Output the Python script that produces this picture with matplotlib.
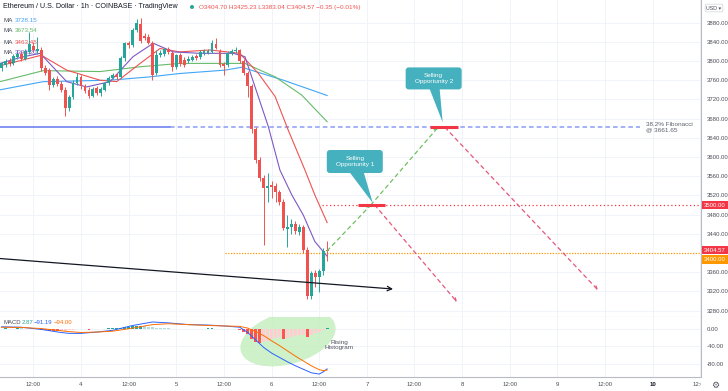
import numpy as np
import matplotlib
matplotlib.use("Agg")
import matplotlib.pyplot as plt
from matplotlib.patches import Ellipse, FancyBboxPatch, Polygon
from matplotlib.transforms import IdentityTransform, blended_transform_factory

plt.rcParams["font.family"] = ["Liberation Sans", "DejaVu Sans"]

# hourly candles, hour 0 = day 4 00:00
hours = list(range(-20, 63))
opens = [3785, 3792, 3800, 3795, 3808, 3815, 3805, 3818, 3832, 3820,
         3822, 3786, 3781, 3750, 3762, 3752, 3740, 3702, 3725, 3754,
         3766, 3748, 3740, 3728, 3743, 3733, 3740, 3754, 3765, 3770,
         3767, 3806, 3837, 3833, 3865, 3878, 3852, 3850, 3838, 3775,
         3812, 3814, 3825, 3817, 3788, 3812, 3802, 3800, 3803, 3810,
         3808, 3816, 3817, 3819, 3836, 3820, 3793, 3792, 3816, 3820,
         3823, 3800, 3775, 3748, 3658, 3594, 3556, 3535, 3541, 3540,
         3527, 3506, 3450, 3454, 3460, 3444, 3454, 3406, 3310, 3358,
         3350, 3362, 3404.70]
highs = [3798, 3805, 3806, 3815, 3822, 3820, 3825, 3860, 3840, 3850,
         3830, 3792, 3785, 3766, 3768, 3758, 3745, 3730, 3760, 3775,
         3770, 3752, 3746, 3746, 3748, 3745, 3757, 3768, 3774, 3775,
         3810, 3840, 3842, 3868, 3888, 3890, 3858, 3856, 3842, 3823,
         3822, 3828, 3830, 3820, 3815, 3816, 3808, 3810, 3812, 3814,
         3822, 3824, 3826, 3844, 3848, 3824, 3798, 3820, 3824, 3830,
         3826, 3804, 3780, 3752, 3662, 3600, 3562, 3567, 3550, 3545,
         3532, 3512, 3479, 3470, 3466, 3460, 3458, 3412, 3362, 3365,
         3366, 3410, 3425.23]
lows = [3780, 3788, 3790, 3792, 3805, 3800, 3802, 3815, 3818, 3815,
        3780, 3770, 3740, 3745, 3748, 3736, 3685, 3695, 3720, 3750,
        3742, 3733, 3722, 3725, 3730, 3728, 3737, 3750, 3762, 3763,
        3764, 3800, 3828, 3830, 3860, 3838, 3844, 3835, 3760, 3770,
        3808, 3810, 3815, 3780, 3784, 3790, 3788, 3796, 3800, 3802,
        3805, 3812, 3814, 3816, 3824, 3788, 3770, 3788, 3812, 3816,
        3796, 3770, 3725, 3650, 3588, 3550, 3417, 3506, 3515, 3506,
        3500, 3448, 3412, 3440, 3440, 3438, 3400, 3305, 3305, 3330,
        3319, 3355, 3383.04]
closes = [3795, 3800, 3795, 3810, 3815, 3805, 3820, 3835, 3822, 3825,
          3786, 3775, 3750, 3762, 3752, 3740, 3702, 3725, 3754, 3766,
          3748, 3737, 3728, 3742, 3733, 3742, 3754, 3765, 3770, 3767,
          3806, 3837, 3833, 3865, 3880, 3842, 3848, 3838, 3770, 3812,
          3816, 3825, 3818, 3787, 3812, 3793, 3792, 3805, 3808, 3806,
          3819, 3820, 3821, 3837, 3827, 3792, 3790, 3816, 3820, 3823,
          3800, 3775, 3748, 3658, 3594, 3556, 3536, 3540, 3537, 3527,
          3506, 3452, 3455, 3461, 3445, 3454, 3406, 3310, 3358, 3350,
          3362, 3404, 3404.57]

# moving averages (hour, price)
ma_blue_t = [-20.4, -9.5, 7.3, 17.4, 24.9, 36.3, 40.5, 51, 62]
ma_blue_v = [3740, 3757, 3760, 3767, 3774, 3781, 3787, 3760, 3728.15]
ma_green_t = [-20.4, -9.5, 4.8, 14.9, 24.9, 40, 41.3, 48.9, 55.6, 62]
ma_green_v = [3757, 3780, 3778, 3788, 3795, 3795, 3795, 3767, 3729, 3673.54]
ma_red_t = [-20.4, -10, -3.6, 4.8, 9, 14.9, 19.9, 24.9, 32.5, 40, 44.7, 48.9, 52.2, 56.4, 58.9, 62]
ma_red_v = [3790, 3812, 3781, 3760, 3757, 3795, 3826, 3819, 3823, 3816, 3774, 3726, 3656, 3573, 3521, 3463.45]
ma_purple_t = [-20.4, -15, -10.3, -3.6, 1.4, 7.3, 13.1, 18.2, 23.2, 30, 38.4, 41.3, 47.2, 50.1, 53.1, 56, 58.9, 62]
ma_purple_v = [3795, 3808, 3816, 3757, 3746, 3757, 3809, 3837, 3819, 3816, 3816, 3809, 3663, 3573, 3521, 3479, 3424, 3393.20]

# MACD pane
macd_hist = [1.0, 1.2, 0.8, 1.0, 1.5, 1.2, 0.6, 0.0, -0.5, -1.0,
             -2.0, -3.0, -4.0, -4.5, -5.0, -4.8, -4.0, -3.0, -2.0, -1.0,
             -0.6, -1.0, -1.2, -0.6, 0.0, 0.4, 1.0, 1.5, 2.0, 2.2,
             3.0, 4.0, 5.0, 6.0, 7.0, 7.2, 6.5, 5.5, 4.0, 3.0,
             2.5, 2.0, 1.5, 0.5, 0.0, -0.5, -0.6, 0.0, 0.2, 0.5,
             1.0, 1.1, 1.2, 1.5, 1.0, 0.0, -0.5, 0.0, 0.4, 0.5,
             -2, -6, -12, -22, -30, -32, -30, -27, -24, -21,
             -19, -24, -21, -18, -16, -14, -14, -18, -14, -10,
             -7, -3, 2.87]
macd_t = [-20, -15, -10, -5, -3, 0, 4, 8, 13, 18, 22, 27, 32, 36, 40, 42, 44, 46, 48, 50, 52, 54, 56, 58, 60, 61, 62]
macd_v = [5, 4, -1, -8, -10, -10, -7, -3, 8, 16, 14, 10, 9, 7, 4, -8, -25, -42, -55, -65, -75, -84, -92, -100, -103, -98, -91.19]
signal_v = [4, 3.5, 1, -4, -6, -8, -7, -5, 2, 10, 12, 10, 8, 7, 6, 2, -6, -15, -27, -38, -50, -62, -73, -84, -93, -95, -94.0]

# levels and drawings
fib_level = 3661.65
target_level = 3500.0
support_level = 3400.0
last_price = 3404.57
fib_solid = (-20.4, 22.4)
fib_dashed = (22.4, 140.8)
target_from = 60.7
support_from = 36.3
sell1 = (69.8, 76.6)
sell2 = (88.0, 95.0)
up_paths = [((62, 3404.57), (73.0, 3500)), ((73.0, 3500), (89.9, 3661.65))]
down_paths = [((74.0, 3500), (94.7, 3298)), ((91.7, 3661.65), (130.2, 3323))]
trend_line = ((-20.4, 3388.5), (78.6, 3325))

price_ticks = [3280, 3320, 3360, 3440, 3480, 3520, 3560, 3600, 3640, 3680, 3720, 3760, 3800, 3840, 3880]
macd_ticks = [0, -40, -80]
tick_hours = list(range(-12, 157, 12))
tick_labels = ["12:00", "4", "12:00", "5", "12:00", "6", "12:00", "7", "12:00",
               "8", "12:00", "9", "12:00", "10", "12:00"]

W, H = 728, 391
GREEN = "#26a69a"
RED = "#ef5350"
GRID = "#f0f3fa"
AXC = "#b8bbc4"
TXT = "#4a4d57"


def fx(x):
    return x / W


def fy(y):
    return 1 - y / H


fig = plt.figure(figsize=(W / 100, H / 100), dpi=100)
ax = fig.add_axes([0, fy(317), fx(701), 317 / H])
axm = fig.add_axes([0, fy(377), fx(701), 60 / H], sharex=ax)
axt = fig.add_axes([0, 0, fx(701), 14 / H], sharex=ax)

ax.set_xlim(-20.40, 156.17)
ax.set_ylim(3266.7, 3927.1)
axm.set_ylim(-109.7, 27.4)

for a in (ax, axm):
    a.set_xticks(tick_hours)
    a.grid(color=GRID, lw=0.7)
    a.set_axisbelow(True)
    a.yaxis.tick_right()
    a.tick_params(length=0, labelbottom=False, labelsize=4.3, labelcolor=TXT, pad=4)
    for s in ("top", "left"):
        a.spines[s].set_visible(False)
    for s in ("right", "bottom"):
        a.spines[s].set_color(AXC)
        a.spines[s].set_linewidth(0.8)

ax.set_yticks(price_ticks)
ax.set_yticklabels([f"{p:.2f}" for p in price_ticks])
axm.set_yticks(macd_ticks)
axm.set_yticklabels([f"{m:.2f}" for m in macd_ticks])
axt.axis("off")
for t, lab in zip(tick_hours, tick_labels):
    bold = lab == "10"
    axt.text(t, 0.45, lab, ha="center", va="center", fontsize=4.3,
             color="#131722" if bold else TXT,
             fontweight="bold" if bold else "normal", clip_on=True)

# candles
o = np.array(opens)
c = np.array(closes)
cols = [GREEN if cc >= oo else RED for oo, cc in zip(o, c)]
ax.vlines(hours, lows, highs, colors=cols, lw=0.7, zorder=4)
ax.bar(hours, np.maximum(np.abs(c - o), 1.0), bottom=np.minimum(o, c),
       width=0.72, color=cols, lw=0, zorder=5)

# moving averages
ax.plot(ma_blue_t, ma_blue_v, color="#42a5f5", lw=0.8, zorder=3)
ax.plot(ma_green_t, ma_green_v, color="#66bb6a", lw=0.8, zorder=3)
ax.plot(ma_red_t, ma_red_v, color="#ef5350", lw=0.8, zorder=3)
ax.plot(ma_purple_t, ma_purple_v, color="#7e57c2", lw=0.8, zorder=3)

# fibonacci level
ax.plot(fib_solid, [fib_level] * 2, color="#7b8cf0", lw=1.3, zorder=2)
ax.plot(fib_dashed, [fib_level] * 2, color="#8c9cf5", lw=1.1, ls=(0, (3, 2)), zorder=2)
ax.text(142.3, fib_level, "38.2% Fibonacci\n@ 3661.65", ha="left", va="center",
        fontsize=4.6, color="#5d606b", linespacing=1.05)

# horizontal levels
ax.plot([target_from, 157], [target_level] * 2, color="#f23645", lw=0.9,
        ls=(0, (1, 2)), zorder=2)
ax.plot([support_from, 157], [support_level] * 2, color="#ff9800", lw=0.9,
        ls=(0, (1, 1.2)), zorder=2)

# trend line
ax.annotate("", xy=trend_line[1], xytext=trend_line[0],
            arrowprops=dict(arrowstyle="->", color="#131722", lw=0.9,
                            mutation_scale=8, shrinkA=0, shrinkB=0), zorder=6)

# projected paths
for start, end in up_paths:
    ax.annotate("", xy=end, xytext=start,
                arrowprops=dict(arrowstyle="->", color="#6fbf5f", lw=0.9, ls=(0, (3, 3)),
                                mutation_scale=5, shrinkA=0, shrinkB=0), zorder=6)
for start, end in down_paths:
    ax.annotate("", xy=end, xytext=start,
                arrowprops=dict(arrowstyle="->", color="#e5577a", lw=0.9, ls=(0, (3, 3)),
                                mutation_scale=5, shrinkA=0, shrinkB=0), zorder=6)

ax.plot(sell1, [target_level] * 2, color="#f23645", lw=2.2, solid_capstyle="butt", zorder=7)
ax.plot(sell2, [fib_level] * 2, color="#f23645", lw=2.2, solid_capstyle="butt", zorder=7)


def callout(tip, box, tail, text):
    # box = (dx0, dx1, dy0, dy1) in screen pixels from the tip, y downwards
    tx, ty = ax.transData.transform(tip)
    ident = IdentityTransform()
    x0, x1 = tx + box[0], tx + box[1]
    ytop, ybot = ty - box[2], ty - box[3]
    fb = FancyBboxPatch((x0, ybot), x1 - x0, ytop - ybot,
                        boxstyle="round,pad=0,rounding_size=3",
                        fc="#45b0be", ec="none", transform=ident, zorder=8)
    fig.patches.append(fb)
    tri = Polygon([(tx + tail[0], ybot + 0.5), (tx + tail[1], ybot + 0.5),
                   (tx + tail[2], ty - tail[3])],
                  closed=True, fc="#45b0be", ec="none", transform=ident, zorder=8)
    fig.patches.append(tri)
    fig.text((x0 + x1) / 2 / W, (ytop + ybot) / 2 / H, text, ha="center", va="center",
             fontsize=4.6, color="white", linespacing=1.05, zorder=9)


callout((73.5, target_level), (-46, 10, -55, -32), (-23, -9, 0, -2),
        "Selling\nOpportunity 1")
callout((91.1, fib_level), (-37, 19, -60, -38), (-13, -3, 0, -5),
        "Selling\nOpportunity 2")

# price labels on the scale
blend = blended_transform_factory(ax.transAxes, ax.transData)
for val, yoff, col in ((target_level, 0, "#f23645"), (last_price, 0.5, "#f23645"),
                       (support_level, -4.5, "#ff9800")):
    ax.annotate(f"{val:.2f}", xy=(1.0, val), xycoords=blend, xytext=(2.2, yoff),
                textcoords="offset points", ha="left", va="center", fontsize=4.3,
                color="white", annotation_clip=False,
                bbox=dict(boxstyle="square,pad=0.3", fc=col, ec="none"))

# MACD
cols_h = []
prev = 0
for h in macd_hist:
    if h >= 0:
        cols_h.append("#26a69a" if h >= prev else "#b2dfdb")
    else:
        cols_h.append("#ff5252" if h < prev else "#ffcdd2")
    prev = h
axm.bar(hours, macd_hist, width=0.72, color=cols_h, lw=0, zorder=3)
axm.plot(macd_t, macd_v, color="#2962ff", lw=0.7, zorder=4)
axm.plot(macd_t, signal_v, color="#ff6d00", lw=0.7, zorder=4)
ell = Ellipse((288, H - 338), 98, 52, angle=16, fc="#c6efc0", ec="none", alpha=0.85,
              transform=IdentityTransform(), zorder=2)
axm.add_patch(ell)
fig.text(fx(339), fy(345), "Rising\nHistogram", ha="center", va="center",
         fontsize=4.6, color="#50535e", linespacing=1.0)

fig.text(fx(4), fy(323), "MACD", fontsize=4.3, color=TXT, va="center")
fig.text(fx(22), fy(323), "2.87", fontsize=4.3, color=GREEN, va="center")
fig.text(fx(34), fy(323), "\u221291.19", fontsize=4.3, color="#2962ff", va="center")
fig.text(fx(54), fy(323), "\u221294.00", fontsize=4.3, color="#ff6d00", va="center")

# header and legend
fig.text(fx(3), fy(7), "Ethereum / U.S. Dollar \u00b7 1h \u00b7 COINBASE \u00b7 TradingView",
         fontsize=5.1, color="#131722", va="center")
fig.patches.append(Ellipse((192, H - 7), 4, 4, fc=GREEN, ec="none",
                           transform=IdentityTransform()))
fig.text(fx(199), fy(7), "O3404.70 H3425.23 L3383.04 C3404.57 \u22120.35 (\u22120.01%)",
         fontsize=4.6, color=RED, va="center")
legend_rows = [("3728.15", "#42a5f5"), ("3673.54", "#66bb6a"),
               ("3463.45", "#ef5350"), ("3393.20", "#7e57c2")]
for i, (val, col) in enumerate(legend_rows):
    y = 20 + 11 * i
    fig.text(fx(4), fy(y), "MA", fontsize=4.5, color=TXT, va="center")
    fig.text(fx(15), fy(y), val, fontsize=4.5, color=col, va="center")
fig.text(fx(12), fy(64), "^", fontsize=5, color=TXT, ha="center", va="center")

fig.text(fx(714), fy(8), "USD \u25be", fontsize=3.8, color=TXT, ha="center", va="center",
         bbox=dict(boxstyle="round,pad=0.25", fc="white", ec="#d1d4dc", lw=0.5))
fig.text(fx(715), fy(385), "\u2699", family="DejaVu Sans", fontsize=6.5,
         color="#50535e", ha="center", va="center")

fig.savefig("out.png", dpi=100)
